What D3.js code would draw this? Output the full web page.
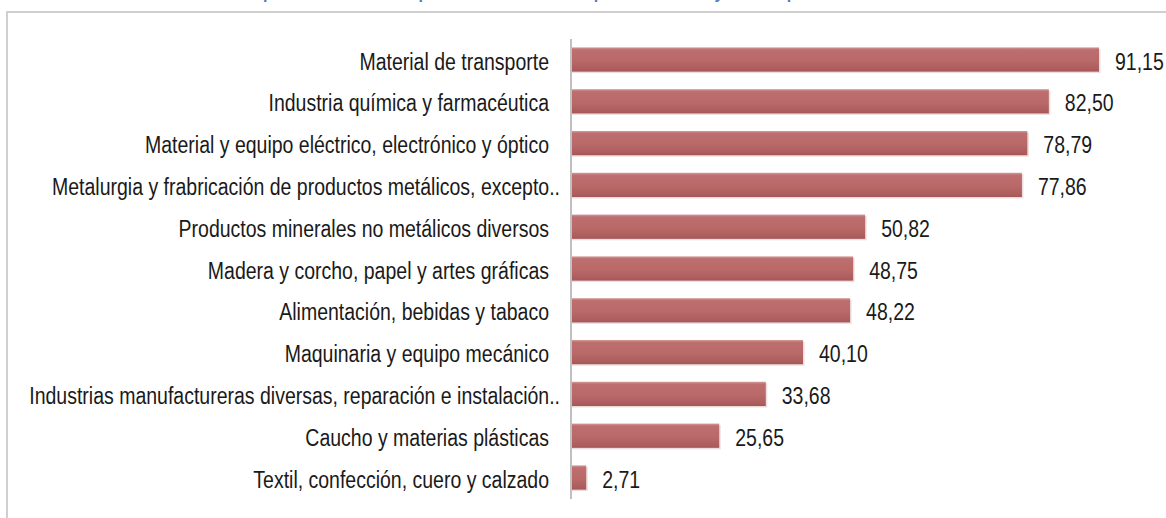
<!DOCTYPE html>
<html>
<head>
<meta charset="utf-8">
<script src="https://cdn.jsdelivr.net/npm/d3@7"></script>
<style>
  body { margin: 0; background: #fff; }
  svg { display: block; }
  text { font-family: "Liberation Sans", Arial, sans-serif; }
</style>
</head>
<body>
<div id="chart"></div>
<script>
// data
const categories = [
    "Material de transporte",
    "Industria química y farmacéutica",
    "Material y equipo eléctrico, electrónico y óptico",
    "Metalurgia y frabricación de productos metálicos, excepto..",
    "Productos minerales no metálicos diversos",
    "Madera y corcho, papel y artes gráficas",
    "Alimentación, bebidas y tabaco",
    "Maquinaria y equipo mecánico",
    "Industrias manufactureras diversas, reparación e instalación..",
    "Caucho y materias plásticas",
    "Textil, confección, cuero y calzado"
];
const values = [91.15, 82.50, 78.79, 77.86, 50.82, 48.75, 48.22, 40.10, 33.68, 25.65, 2.71];
const title = "Empresas innovadoras por rama de actividad: peso en el total y en la exportación";

const width = 1166, height = 518;
const axisX = 570.5;
const stretch = 1.18;   // labels in the picture are a bit taller than wide

const svg = d3.select("#chart").append("svg")
    .attr("width", width)
    .attr("height", height);

// outer frame, runs off the right and bottom edge
svg.append("path")
    .attr("d", "M7,520 L7,12 L1170,12")
    .attr("fill", "none")
    .attr("stroke", "#d0d0d0")
    .attr("stroke-width", 2);

// title, mostly cut off at the top
svg.append("text")
    .attr("x", 238)
    .attr("y", -1)
    .attr("fill", "#4a7ebf")
    .attr("font-size", 16)
    .attr("font-weight", "bold")
    .text(title);

const x = d3.scaleLinear().domain([0, 100]).range([axisX, axisX + 579.8]);
const y = d3.scaleBand().domain(categories).range([38.6, 498.4])
    .paddingInner(0.42).paddingOuter(0.21);

const defs = svg.append("defs");
const grad = defs.append("linearGradient")
    .attr("id", "barGrad")
    .attr("x1", 0).attr("y1", 0).attr("x2", 0).attr("y2", 1);
grad.append("stop").attr("offset", "0%").attr("stop-color", "#d49a9a");
grad.append("stop").attr("offset", "10%").attr("stop-color", "#bd6e6e");
grad.append("stop").attr("offset", "55%").attr("stop-color", "#ba6969");
grad.append("stop").attr("offset", "90%").attr("stop-color", "#ad5d5d");
grad.append("stop").attr("offset", "100%").attr("stop-color", "#a35555");

const rows = categories.map((c, i) => ({cat: c, val: values[i]}));

// soft shadow under each bar
svg.append("g").selectAll("rect")
    .data(rows)
    .join("rect")
    .attr("x", x(0))
    .attr("y", d => y(d.cat) + 1.5)
    .attr("width", d => x(d.val) - x(0) + 1.5)
    .attr("height", y.bandwidth())
    .attr("fill", "#ecdede");

svg.append("g").selectAll("rect")
    .data(rows)
    .join("rect")
    .attr("x", x(0))
    .attr("y", d => y(d.cat))
    .attr("width", d => x(d.val) - x(0))
    .attr("height", y.bandwidth())
    .attr("fill", "url(#barGrad)");

// category axis
const axis = svg.append("g")
    .attr("transform", `translate(${axisX},0)`)
    .call(d3.axisLeft(y).tickSize(0).tickPadding(21.5));

axis.select(".domain")
    .attr("stroke", "#c0c0c0")
    .attr("stroke-width", 2);

axis.selectAll(".tick text")
    .attr("font-size", 19.5)
    .attr("font-family", "Liberation Sans, Arial, sans-serif")
    .attr("fill", "#1a1a1a")
    .attr("dy", "0.435em")
    .attr("x", d => d.endsWith("..") ? -21.5 + 11 : -21.5)
    .attr("transform", `scale(1,${stretch})`);

// value labels
svg.append("g").selectAll("text")
    .data(rows)
    .join("text")
    .attr("transform", d => `translate(${x(d.val) + 16},${y(d.cat) + y.bandwidth() / 2}) scale(1,${stretch})`)
    .attr("dy", "0.435em")
    .attr("font-size", 19.5)
    .attr("fill", "#1a1a1a")
    .text(d => d3.format(".2f")(d.val).replace(".", ","));
</script>
</body>
</html>
